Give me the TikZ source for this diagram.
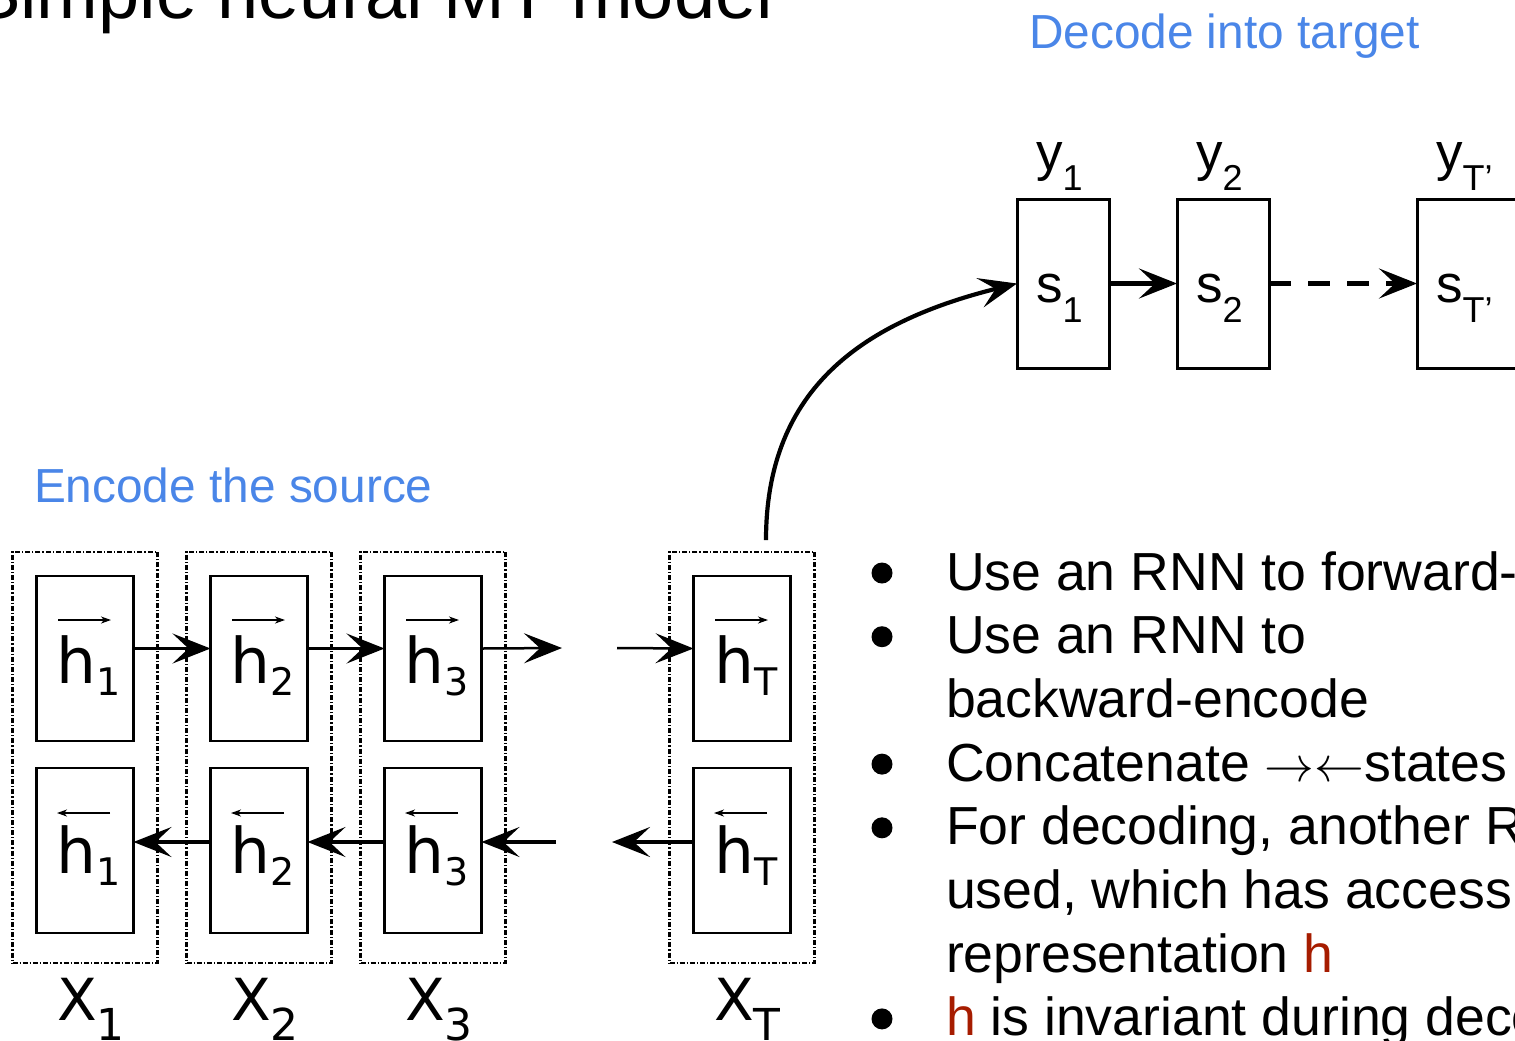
\documentclass[tikz,border=0pt]{standalone}
\usepackage{fontspec}
\setmainfont{Liberation Sans}
\newfontfamily\encfont{DejaVu Sans}
\usetikzlibrary{arrows.meta,positioning}
\definecolor{slideblue}{HTML}{4A86E8}
\definecolor{hred}{HTML}{A61C00}
\newcommand{\declab}[2]{\fontsize{26.5pt}{26.5pt}\selectfont #1\raisebox{-10pt}{\fontsize{18pt}{18pt}\selectfont #2}}
\newcommand{\hidlab}[2]{\encfont\fontsize{31.5pt}{31.5pt}\selectfont #1\raisebox{-6pt}{\fontsize{19pt}{19pt}\selectfont #2}}
\newcommand{\srclab}[2]{\encfont\fontsize{29pt}{29pt}\selectfont #1\raisebox{-10pt}{\fontsize{22pt}{22pt}\selectfont #2}}

\begin{document}
\begin{tikzpicture}[
    x=0.5pt, y=-0.5pt,
    every node/.style={inner sep=0pt, outer sep=0pt},
    column/.style={draw, line width=1.2pt, dash pattern=on 2.5pt off 1pt on 0.6pt off 1pt, minimum width=72.5pt, minimum height=205.5pt},
    cell/.style={draw, line width=1.1pt, minimum width=48.5pt, minimum height=82.5pt},
    state/.style={draw, line width=1.5pt, minimum width=46pt, minimum height=84.5pt},
    fwd/.style={line width=1.25pt, -{Stealth[length=19pt,width=15pt,inset=8pt]}},
    bwd/.style={line width=1.6pt, -{Stealth[length=19pt,width=15pt,inset=8pt]}},
    vec/.style={line width=0.7pt, -{Stealth[length=5pt,width=3.5pt,inset=1.5pt]}},
    dec/.style={line width=2.1pt, -{Stealth[length=19pt,width=15pt,inset=8pt]}},
    heading/.style={font=\fontsize{23.9pt}{23.9pt}\selectfont, text=slideblue, anchor=base west},
    note/.style={font=\fontsize{26.8pt}{26.8pt}\selectfont, anchor=base west}
  ]
  \useasboundingbox (0,0) rectangle (1515,1040);
  \clip (0,0) rectangle (1515,1040);
  % title, cut by the crop of the slide
  \node[font=\fontsize{37pt}{37pt}\selectfont, anchor=base east] (title) at (773,18) {Simple neural MT model};
  \node[heading] (enc) at (34,502) {Encode the source};
  \node[heading] (dec) at (1029,48) {Decode into target};

  % encoder columns: forward cell on top, backward cell below
  \foreach \cx/\k in {85/1, 259/2, 433/3, 742/T} {
    \node[column] (c\k) at (\cx,757.5) {};
    \node[cell] (f\k) at (\cx,658.5) {};
    \node[cell] (b\k) at (\cx,850.5) {};
    \node[anchor=base] (fl\k) at ([xshift=2pt,yshift=-12.25pt]f\k.center) {\hidlab{h}{\k}};
    \node[anchor=base] (bl\k) at ([xshift=2pt,yshift=-11.25pt]b\k.center) {\hidlab{h}{\k}};
    \draw[vec] ([xshift=-13.5pt,yshift=19.25pt]f\k.center) -- ([xshift=13pt,yshift=19.25pt]f\k.center);
    \draw[vec] ([xshift=12.5pt,yshift=18.75pt]b\k.center) -- ([xshift=-14pt,yshift=18.75pt]b\k.center);
    \node[anchor=base west] (x\k) at ({\cx-28},1020) {\srclab{X}{\k}};
  }

  % forward and backward passes
  \coordinate (fgap) at (562,648);
  \coordinate (fgapT) at (617,648);
  \coordinate (bgap) at (556,842);
  \coordinate (bgapT) at (612,842);
  \draw[fwd] ([yshift=5pt]f1.east) -- ([yshift=5pt]f2.west);
  \draw[fwd] ([yshift=5pt]f2.east) -- ([yshift=5pt]f3.west);
  \draw[fwd] ([yshift=5pt]f3.east) -- (fgap);
  \draw[fwd] (fgapT) -- ([yshift=5pt]fT.west);
  \draw[bwd] ([yshift=4.25pt]b2.west) -- ([yshift=4.25pt]b1.east);
  \draw[bwd] ([yshift=4.25pt]b3.west) -- ([yshift=4.25pt]b2.east);
  \draw[bwd] (bgap) -- ([yshift=4.25pt]b3.east);
  \draw[bwd] ([yshift=4.25pt]bT.west) -- (bgapT);

  % decoder
  \node[state] (s1) at (1063,283.5) {};
  \node[state] (s2) at (1223,283.5) {};
  \node[state, minimum width=50pt] (sT) at (1467,283.5) {};
  \foreach \k/\t in {1/1, 2/2, T/T’} {
    \node[anchor=base west] (y\k) at ([xshift=9.5pt,yshift=14.25pt]s\k.north west) {\declab{y}{\t}};
    \node[anchor=base west] (sl\k) at ([xshift=9.5pt,yshift=-9.25pt]s\k.west) {\declab{s}{\t}};
  }
  \draw[dec] (s1) -- (s2);
  \draw[dec, dash pattern=on 11pt off 8.5pt] (s2) -- (sT);
  \coordinate (hout) at (766,540);
  \draw[dec] (hout) to[out=90, in=194, looseness=1.1] (s1.west);

  % bullet notes
  \foreach \txt [count=\i] in {{Use an RNN to forward-}, {Use an RNN to}, {backward-encode},
      {Concatenate $\rightarrow\leftarrow$states}, {For decoding, another R}, {used, which has access},
      {representation \textcolor{hred}{h}}, {\textcolor{hred}{h} is invariant during deco}}
    \node[note] (line\i) at (946,{590+63.7*(\i-1)}) {\txt};
  \foreach \i in {1,2,4,5,8}
    \fill ([xshift=-32pt,yshift=8.5pt]line\i.base west) circle (10.5);
\end{tikzpicture}
\end{document}
